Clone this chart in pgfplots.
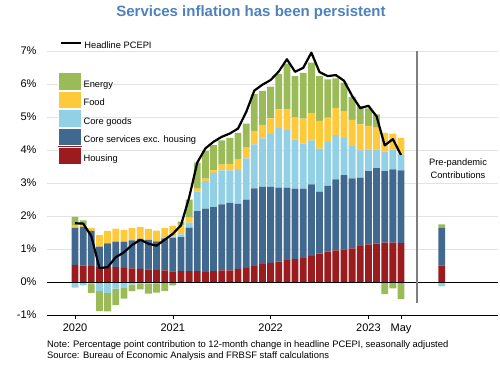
\documentclass[border=0pt]{standalone}
\usepackage{pgfplots}
\pgfplotsset{compat=1.18}
\usepackage{pgfplotstable}
\usepackage{fontspec}
\setmainfont{Liberation Sans}

\definecolor{cEnergy}{HTML}{9BBB59}
\definecolor{cFood}{HTML}{FFC93C}
\definecolor{cGoods}{HTML}{92D0E6}
\definecolor{cServ}{HTML}{41698F}
\definecolor{cHous}{HTML}{9B1C1F}
\definecolor{cTitle}{HTML}{4F81BD}
\definecolor{cGray}{HTML}{7F7F7F}
\definecolor{cGrid}{HTML}{E3E3E3}

\pgfplotstableread{
x  H    CS   CGp  Fp   Ep   CGn   En
0  0.52 1.12 0    0.07 0.26 -0.17 0
1  0.50 1.17 0    0.06 0.14 -0.10 0
2  0.48 1.07 0    0.08 0    -0.05 -0.28
3  0.45 0.62 0    0.35 0    -0.28 -0.60
4  0.45 0.72 0    0.38 0    -0.33 -0.56
5  0.45 0.77 0    0.40 0    -0.20 -0.50
6  0.43 0.79 0    0.35 0    -0.16 -0.34
7  0.41 0.85 0    0.37 0    -0.08 -0.20
8  0.40 0.91 0    0.36 0    -0.04 -0.18
9  0.38 0.90 0    0.33 0    -0.05 -0.30
10 0.37 0.86 0    0.33 0    -0.04 -0.28
11 0.35 0.97 0    0.31 0    0     -0.27
12 0.32 1.02 0.04 0.32 0    0     -0.10
13 0.33 1.03 0.08 0.29 0.10 0 0
14 0.33 1.32 0.15 0.15 0.55 0 0
15 0.33 1.82 0.59 0.09 0.79 0 0
16 0.30 1.92 0.84 0.07 0.84 0 0
17 0.33 1.94 1.04 0.07 0.77 0 0
18 0.35 2.00 1.03 0.18 0.73 0 0
19 0.35 2.05 0.98 0.20 0.79 0 0
20 0.40 1.97 1.03 0.32 0.80 0 0
21 0.43 2.07 1.25 0.32 0.73 0 0
22 0.48 2.36 1.33 0.41 1.11 0 0
23 0.54 2.34 1.47 0.41 1.03 0 0
24 0.58 2.30 1.61 0.47 0.96 0 0
25 0.62 2.24 1.80 0.57 1.08 0 0
26 0.66 2.20 1.74 0.65 1.37 0 0
27 0.69 2.14 1.49 0.68 1.24 0 0
28 0.72 2.11 1.36 0.76 1.39 0 0
29 0.79 2.17 1.33 0.81 1.55 0 0
30 0.86 1.88 1.30 0.84 1.36 0 0
31 0.92 1.99 1.34 0.73 1.16 0 0
32 0.96 2.15 1.34 0.83 0.89 0 0
33 0.99 2.25 1.13 0.81 0.86 0 0
34 1.02 2.12 0.98 0.79 0.70 0 0
35 1.09 2.07 0.83 0.79 0.55 0 0
36 1.14 2.22 0.66 0.71 0.53 0 0
37 1.16 2.29 0.57 0.66 0.40 0 0
38 1.19 2.17 0.59 0.57 0    0 -0.37
39 1.19 2.22 0.61 0.48 0    0 -0.19
40 1.18 2.20 0.49 0.50 0    0 -0.52
45 0.50 1.15 0    0    0.10 -0.13 0
}\contrib

\pgfplotstableread{
x y
0 1.78
1 1.77
2 1.39
3 0.42
4 0.45
5 0.75
6 0.90
7 1.12
8 1.28
9 1.16
10 1.10
11 1.28
12 1.46
13 1.72
14 2.56
15 3.62
16 4.05
17 4.25
18 4.40
19 4.50
20 4.65
21 5.15
22 5.80
23 5.98
24 6.12
25 6.38
26 6.75
27 6.37
28 6.49
29 6.95
30 6.36
31 6.24
32 6.27
33 6.10
34 5.64
35 5.27
36 5.34
37 5.02
38 4.14
39 4.33
40 3.85
}\headline

\pgfplotsset{
  base/.style={
    at={(47pt,50pt)}, anchor=south west,
    scale only axis, width=451pt, height=272.25pt,
    xmin=-3.44, xmax=51.9, ymin=-1, ymax=7.25,
  },
  sw/.style={legend image code/.code={%
    \fill[#1] (0pt,-5.7pt) rectangle (23pt,12.3pt);
    \draw[white, line width=0.8pt] (0.4pt,-5.3pt) rectangle (22.6pt,11.9pt);}},
}

\begin{document}
\begin{tikzpicture}
\useasboundingbox (0,0) rectangle (500pt,365pt);

% positive contributions
\begin{axis}[base,
  ybar stacked, bar width=6.8pt,
  axis x line*=bottom, axis y line*=left,
  y axis line style={draw=none},
  x axis line style={black, line width=1pt},
  ytick={-1,0,...,7},
  yticklabel={\pgfmathprintnumber{\tick}\%},
  xtick={0,12,24,36,40},
  xticklabels={2020,2021,2022,2023,May},
  /pgf/number format/assume math mode=true,
  tick align=outside, major tick length=4pt,
  xtick style={black, line width=0.6pt},
  ytick style={draw=none},
  tick label style={font=\fontsize{11}{13}\selectfont},
  yticklabel style={xshift=-3pt},
  xticklabel style={yshift=-1pt},
  ymajorgrids, grid style={draw=cGrid, line width=0.9pt},
]
\addplot[fill=cHous, draw=none] table[x=x, y=H] {\contrib};
\addplot[fill=cServ, draw=none] table[x=x, y=CS] {\contrib};
\addplot[fill=cGoods, draw=none] table[x=x, y=CGp] {\contrib};
\addplot[fill=cFood, draw=none] table[x=x, y=Fp] {\contrib};
\addplot[fill=cEnergy, draw=none] table[x=x, y=Ep] {\contrib};
\end{axis}

% negative contributions
\begin{axis}[base, hide axis, ybar stacked, bar width=6.8pt]
\addplot[fill=cGoods, draw=none] table[x=x, y=CGn] {\contrib};
\addplot[fill=cEnergy, draw=none] table[x=x, y=En] {\contrib};
\end{axis}

% lines
\begin{axis}[base, hide axis,
  legend style={at={(0.0288,0.988)}, anchor=west, draw=none, fill=none,
    inner sep=0pt, font=\fontsize{9.3}{11}\selectfont},
  every axis plot post/.append style={
    legend image code/.code={\draw[##1] (0pt,3.3pt) -- (20pt,3.3pt);}},
]
\addplot[black, line width=1pt, forget plot] coordinates {(-3.44,0) (51.9,0)};
\addplot[cGray, line width=2pt, forget plot] coordinates {(42,-0.63) (42,7.0)};
\addplot[black, line width=2.2pt, line join=round] table[x=x, y=y] {\headline};
\addlegendentry{Headline PCEPI}
\end{axis}

% legend for the components
\begin{axis}[base, hide axis,
  legend cell align=left,
  legend style={at={(0.0244,0.8926)}, anchor=north west, draw=none, fill=none,
    inner sep=0pt, row sep=0pt, font=\fontsize{9.3}{11}\selectfont},
]
\addlegendimage{sw=cEnergy}
\addlegendentry{Energy}
\addlegendimage{sw=cFood}
\addlegendentry{Food}
\addlegendimage{sw=cGoods}
\addlegendentry{Core goods}
\addlegendimage{sw=cServ}
\addlegendentry{Core services exc. housing}
\addlegendimage{sw=cHous}
\addlegendentry{Housing}
\end{axis}

\node[font=\fontsize{15}{18}\selectfont\bfseries, text=cTitle] at (251pt,352pt)
  {Services inflation has been persistent};
\node[font=\fontsize{9.3}{12.5}\selectfont, align=center] at (458pt,196.5pt)
  {Pre-pandemic\\Contributions};
\node[anchor=base west, inner sep=0pt, font=\fontsize{9.4}{11}\selectfont] at (47pt,17.5pt)
  {Note: Percentage point contribution to 12-month change in headline PCEPI, seasonally adjusted};
\node[anchor=base west, inner sep=0pt, font=\fontsize{9.4}{11}\selectfont] at (47pt,6.5pt)
  {Source: Bureau of Economic Analysis and FRBSF staff calculations};
\end{tikzpicture}
\end{document}
